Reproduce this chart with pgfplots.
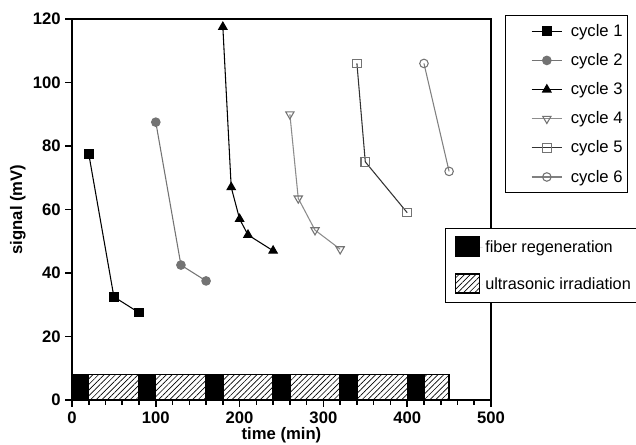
\documentclass[border=0pt]{standalone}
\usepackage{fontspec}
\setmainfont{Liberation Sans}
\usepackage{pgfplots}
\pgfplotsset{compat=1.18}
\usetikzlibrary{patterns,patterns.meta}

\begin{document}
\begin{tikzpicture}
\pgfplotsset{
  common/.style={width=314.25pt, height=285.75pt, scale only axis,
    xmin=0, xmax=500, ymin=0, ymax=120},
}
\begin{axis}[common,
  axis line style={line width=1.5pt},
  xtick={0,100,...,500}, minor x tick num=4,
  ytick={0,20,...,120},
  tick align=outside, xtick pos=bottom, ytick pos=left,
  major tick length=5pt, minor tick length=3.5pt,
  tick style={line width=1.2pt, black},
  ticklabel style={font=\fontsize{12.5}{14}\selectfont\bfseries},
  /pgf/number format/assume math mode=true,
  xlabel={time (min)}, ylabel={signal (mV)},
  label style={font=\fontsize{12.5}{14}\selectfont\bfseries},
  xlabel style={at={(axis description cs:0.5,-0.092)}, anchor=center},
  ylabel style={at={(axis description cs:-0.129,0.5)}, anchor=center},
  legend style={at={(axis description cs:1.0334,1.0105)}, anchor=north west,
    draw=black, line width=0.6pt, font=\fontsize{12.5}{15}\selectfont,
    inner xsep=1.5pt, inner ysep=1pt, row sep=0pt},
  legend cell align=left,
  legend image code/.code={\path[draw=none] (0cm,-0.384cm) rectangle (1.6cm,0.384cm);
    \draw[mark repeat=2,mark phase=2,#1] plot coordinates {(0.64cm,0cm)(1.04cm,0cm)(1.44cm,0cm)};},
]
\addplot[black, line width=0.8pt, mark=square*, mark size=3.2pt, mark options={solid}]
  coordinates {(20,77.5) (50,32.5) (80,27.5)};
\addlegendentry{cycle 1}
\addplot[black!55, line width=0.8pt, mark=*, mark size=3.2pt, mark options={fill=black!55}]
  coordinates {(100,87.5) (130,42.5) (160,37.5)};
\addlegendentry{cycle 2}
\addplot[black, line width=0.8pt, mark=triangle*, mark size=3.6pt]
  coordinates {(180,117.5) (190,67) (200,57) (210,52) (240,47)};
\addlegendentry{cycle 3}
\addplot[black!45, line width=0.8pt, mark=triangle, mark size=3.6pt, mark options={rotate=180, fill=white, draw=black!55}]
  coordinates {(260,90) (270,63.5) (290,53.5) (320,47.5)};
\addlegendentry{cycle 4}
\addplot[black!80, line width=0.8pt, mark=square, mark size=3.2pt, mark options={fill=white, draw=black!55}]
  coordinates {(340,106) (350,75) (400,59)};
\addlegendentry{cycle 5}
\addplot[black!50, line width=0.8pt, mark=o, mark size=3.2pt, mark options={fill=white, draw=black!55}]
  coordinates {(420,106) (450,72)};
\addlegendentry{cycle 6}
\end{axis}

\begin{axis}[common, hide axis,
  legend style={at={(axis description cs:0.890,0.4514)}, anchor=north west,
    draw=black, line width=0.6pt, font=\fontsize{12.2}{15}\selectfont,
    inner xsep=7pt, inner ysep=6pt, row sep=12pt},
  legend cell align=left,
  legend image code/.code={\path[draw=none] (0cm,0cm) -- (0.72cm,0cm);
    \draw[#1] (0cm,-0.22cm) rectangle (0.63cm,0.28cm);},
]
\addplot[ybar interval, fill=black, draw=black, line width=1pt, forget plot]
  coordinates {(0,8) (20,0) (80,8) (100,0) (160,8) (180,0) (240,8) (260,0) (320,8) (340,0) (400,8) (420,0) (450,0)};
\addplot[ybar interval, pattern={Lines[angle=45, distance=3pt, line width=0.5pt]}, draw=black, line width=1pt, forget plot]
  coordinates {(0,0) (20,8) (80,0) (100,8) (160,0) (180,8) (240,0) (260,8) (320,0) (340,8) (400,0) (420,8) (450,8)};
\addlegendimage{fill=black, draw=black, line width=1pt}
\addlegendentry{fiber regeneration}
\addlegendimage{pattern={Lines[angle=45, distance=3pt, line width=0.5pt]}, draw=black, line width=1pt}
\addlegendentry{ultrasonic irradiation}
\end{axis}
\pgfresetboundingbox
\useasboundingbox (-54pt,-33.75pt) rectangle (423pt,300pt);
\end{tikzpicture}
\end{document}
